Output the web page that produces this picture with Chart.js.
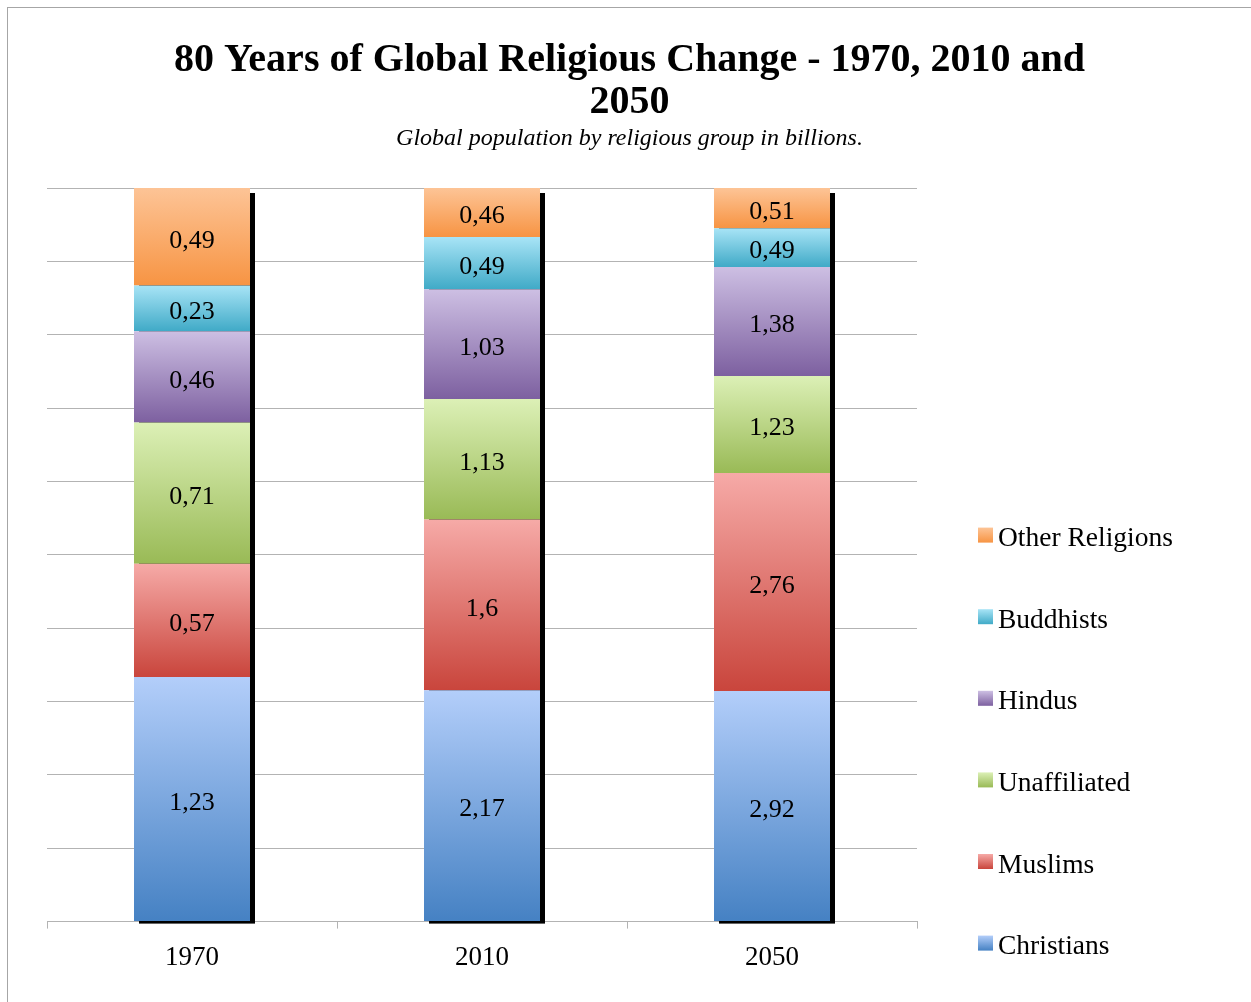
<!DOCTYPE html>
<html>
<head>
<meta charset="utf-8">
<script src="https://cdn.jsdelivr.net/npm/chart.js@4.4.1/dist/chart.umd.min.js"></script>
<style>
  html, body { margin: 0; padding: 0; background: #fff; overflow: hidden; }
  #frame { position: absolute; left: 7px; top: 7px; width: 1300px; height: 1100px; border: 1px solid #a6a6a6; }
  #wrap { position: absolute; left: 8px; top: 8px; width: 1243px; height: 994px; }
</style>
</head>
<body>
<div id="frame"></div>
<div id="wrap"><canvas id="religion"></canvas></div>
<script>
// DATA
var years = ["1970", "2010", "2050"];
var christians = [1.23, 2.17, 2.92];
var muslims = [0.57, 1.6, 2.76];
var unaffiliated = [0.71, 1.13, 1.23];
var hindus = [0.46, 1.03, 1.38];
var buddhists = [0.23, 0.49, 0.49];
var otherReligions = [0.49, 0.46, 0.51];

var groups = ["Christians", "Muslims", "Unaffiliated", "Hindus", "Buddhists", "Other Religions"];
var groupValues = [christians, muslims, unaffiliated, hindus, buddhists, otherReligions];
// light (top) / dark (bottom) colour of each gradient
var lightColors = ["#b3cefa", "#f6aaa7", "#dcf0b6", "#cdbfe3", "#a8e4f6", "#fdc496"];
var darkColors  = ["#4581c3", "#c9453c", "#99ba56", "#7d60a0", "#40aac7", "#f79443"];

var titleLines = ["80 Years of Global Religious Change - 1970, 2010 and", "2050"];
var subtitleText = "Global population by religious group in billions.";

var FONT = "'Liberation Serif', 'Times New Roman', serif";
Chart.defaults.font.family = FONT;
Chart.defaults.color = "#000";

var totals = years.map(function (y, i) {
  var s = 0;
  groupValues.forEach(function (arr) { s += arr[i]; });
  return s;
});
var percents = groupValues.map(function (arr) {
  return arr.map(function (v, i) { return v / totals[i] * 100; });
});

function segmentGradient(ctx, d) {
  var chart = ctx.chart;
  if (!chart.chartArea || ctx.dataIndex === undefined) return darkColors[d];
  var y = chart.scales.y;
  var start = 0;
  for (var k = 0; k < d; k++) start += percents[k][ctx.dataIndex];
  var end = start + percents[d][ctx.dataIndex];
  var top = y.getPixelForValue(end), bottom = y.getPixelForValue(start);
  if (!isFinite(top) || !isFinite(bottom)) return darkColors[d];
  var g = chart.ctx.createLinearGradient(0, top, 0, bottom);
  g.addColorStop(0, lightColors[d]);
  g.addColorStop(1, darkColors[d]);
  return g;
}

// title + subtitle centred on the whole canvas
var titlePlugin = {
  id: "pageTitle",
  afterDraw: function (chart) {
    var c = chart.ctx;
    var cx = chart.width / 2;
    c.save();
    c.fillStyle = "#000";
    c.textAlign = "center";
    c.textBaseline = "middle";
    c.font = "bold 40px " + FONT;
    c.fillText(titleLines[0], cx, 53);
    c.fillText(titleLines[1], cx, 95);
    c.font = "italic 24px " + FONT;
    c.fillText(subtitleText, cx, 131);
    c.restore();
  }
};

//black shadow behind each stacked column
var shadowPlugin = {
  id: "barShadow",
  beforeDatasetsDraw: function (chart) {
    var c = chart.ctx;
    var first = chart.getDatasetMeta(0).data;
    var last = chart.getDatasetMeta(groups.length - 1).data;
    c.save();
    c.fillStyle = "#000";
    for (var i = 0; i < first.length; i++) {
      var w = first[i].width;
      var left = first[i].x - w / 2;
      var top = last[i].y;
      var bottom = first[i].base;
      c.fillRect(left + 5, top + 5, w, bottom + 2.5 - top - 5);
    }
    c.restore();
  }
};

// value labels inside each segment
var labelPlugin = {
  id: "segmentLabels",
  afterDatasetsDraw: function (chart) {
    var c = chart.ctx;
    c.save();
    c.font = "26px " + FONT;
    c.fillStyle = "#000";
    c.textAlign = "center";
    c.textBaseline = "middle";
    chart.data.datasets.forEach(function (ds, d) {
      chart.getDatasetMeta(d).data.forEach(function (el, i) {
        var txt = String(groupValues[d][i]).replace(".", ",");
        c.fillText(txt, el.x, (el.y + el.base) / 2 + 4);
      });
    });
    c.restore();
  }
};

// legend on the right, Other Religions at the top
var legendPlugin = {
  id: "sideLegend",
  afterDraw: function (chart) {
    var c = chart.ctx;
    var area = chart.chartArea;
    var x = area.right + 61;
    c.save();
    c.font = "27.5px " + FONT;
    c.fillStyle = "#000";
    c.textAlign = "left";
    c.textBaseline = "alphabetic";
    for (var k = 0; k < groups.length; k++) {
      var cy = area.bottom + 21.5 - k * 81.6;
      var g = c.createLinearGradient(0, cy - 7.5, 0, cy + 7.5);
      g.addColorStop(0, lightColors[k]);
      g.addColorStop(1, darkColors[k]);
      c.fillStyle = g;
      c.fillRect(x, cy - 7.5, 15, 15);
      c.fillStyle = "#000";
      c.fillText(groups[k], x + 20, cy + 11);
    }
    c.restore();
  }
};

var datasets = groups.map(function (name, d) {
  return {
    label: name,
    data: percents[d],
    backgroundColor: function (ctx) { return segmentGradient(ctx, d); },
    borderWidth: 0,
    barPercentage: 0.4,
    categoryPercentage: 1
  };
});

new Chart(document.getElementById("religion"), {
  type: "bar",
  data: { labels: years, datasets: datasets },
  options: {
    responsive: true,
    maintainAspectRatio: false,
    animation: false,
    layout: { padding: { left: 39, right: 334, top: 180, bottom: 15 } },
    plugins: {
      legend: { display: false },
      tooltip: { enabled: false },
      title: { display: false }
    },
    scales: {
      x: {
        stacked: true,
        grid: { display: true, drawOnChartArea: false, tickLength: 7, color: "#b3b3b3" },
        border: { color: "#b3b3b3" },
        ticks: { font: { size: 27 }, padding: 13, color: "#000" }
      },
      y: {
        stacked: true,
        min: 0,
        max: 100,
        ticks: { display: false, stepSize: 10 },
        grid: { color: "#b3b3b3", drawTicks: false },
        border: { display: false }
      }
    }
  },
  plugins: [shadowPlugin, labelPlugin, legendPlugin, titlePlugin]
});
</script>
</body>
</html>
